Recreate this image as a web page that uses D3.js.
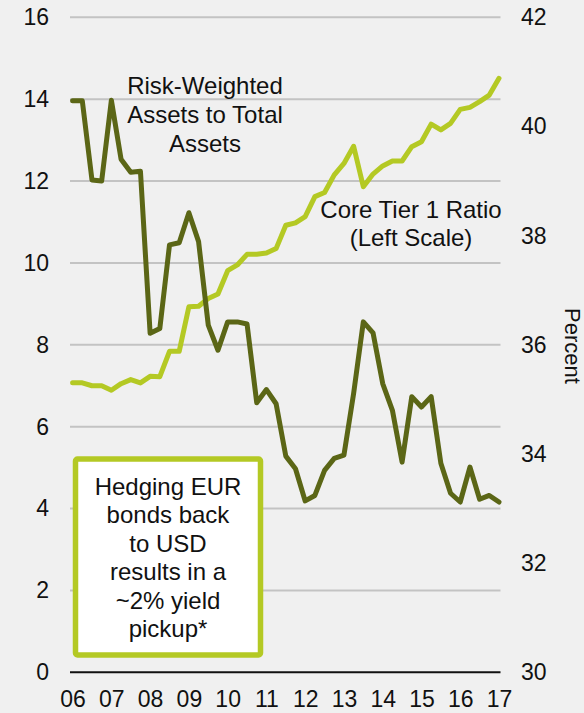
<!DOCTYPE html>
<html>
<head>
<meta charset="utf-8">
<script src="https://cdn.jsdelivr.net/npm/d3@7"></script>
<style>
  html, body { margin: 0; padding: 0; background: #f0f0f0; }
  svg { display: block; font-family: "Liberation Sans", Arial, sans-serif; }
</style>
</head>
<body>
<svg id="chart" width="584" height="713"></svg>
<script>
// Quarterly, 2006Q1 .. 2017Q1
const quarters = d3.range(45).map(i => 2006 + i / 4);
const xTickLabels = ["06","07","08","09","10","11","12","13","14","15","16","17"];
const leftTicks = [0, 2, 4, 6, 8, 10, 12, 14, 16];
const rightTicks = [30, 32, 34, 36, 38, 40, 42];

// Core Tier 1 Ratio (left scale)
const coreTier1 = [7.07,7.07,7.0,7.0,6.89,7.05,7.15,7.07,7.23,7.22,7.84,7.84,8.93,8.94,9.13,9.24,
  9.81,9.95,10.21,10.21,10.24,10.35,10.92,10.98,11.13,11.62,11.72,12.15,12.43,12.85,11.86,12.17,
  12.37,12.49,12.49,12.84,12.96,13.39,13.25,13.41,13.75,13.8,13.94,14.1,14.51];

// Risk-Weighted Assets to Total Assets (right scale)
const rwaRatio = [40.47,40.47,39.02,39.0,40.48,39.40,39.16,39.18,36.21,36.30,37.83,37.87,38.42,37.89,
  36.36,35.90,36.42,36.42,36.38,34.94,35.18,34.92,33.96,33.73,33.14,33.24,33.70,33.92,33.98,35.11,
  36.42,36.22,35.29,34.80,33.85,35.05,34.86,35.05,33.83,33.28,33.12,33.76,33.17,33.24,33.12];

const boxLines = ["Hedging EUR","bonds back","to USD","results in a","~2% yield","pickup*"];

const svg = d3.select("#chart");
const x = d3.scaleLinear().domain([2006, 2017]).range([72.6, 499]);
const yL = d3.scaleLinear().domain([0, 16]).range([672.3, 17.3]);
const yR = d3.scaleLinear().domain([30, 42]).range([672.3, 17.3]);

const darkCol = "#5b6616";
const lightCol = "#b4c924";

// gridlines
svg.append("g").selectAll("line").data(leftTicks.filter(d => d > 0)).join("line")
  .attr("x1", 70).attr("x2", 500.5)
  .attr("y1", d => yL(d)).attr("y2", d => yL(d))
  .attr("stroke", "#c3c3c3").attr("stroke-width", 2);
svg.append("line").attr("x1", 70).attr("x2", 500.5)
  .attr("y1", yL(0)).attr("y2", yL(0)).attr("stroke", "#111").attr("stroke-width", 2);

// left axis labels
const leftAxis = d3.axisLeft(yL).tickValues(leftTicks).tickSize(0).tickPadding(0);
const gL = svg.append("g").attr("transform", "translate(49,0)").call(leftAxis);
gL.select(".domain").remove();
gL.selectAll("text").attr("font-size", 23).attr("fill", "#111").attr("font-family", "Liberation Sans, Arial, sans-serif");

// right axis labels
const rightAxis = d3.axisRight(yR).tickValues(rightTicks).tickSize(0).tickPadding(0);
const gR = svg.append("g").attr("transform", "translate(521,0)").call(rightAxis);
gR.select(".domain").remove();
gR.selectAll("text").attr("font-size", 23).attr("fill", "#111").attr("font-family", "Liberation Sans, Arial, sans-serif");

// bottom axis labels
const bottomAxis = d3.axisBottom(x).tickValues(d3.range(2006, 2018))
  .tickFormat((d, i) => xTickLabels[i]).tickSize(0).tickPadding(0);
const gB = svg.append("g").attr("transform", "translate(0,691)").call(bottomAxis);
gB.select(".domain").remove();
gB.selectAll("text").attr("font-size", 23).attr("fill", "#111").attr("dy", "0.71em")
  .attr("font-family", "Liberation Sans, Arial, sans-serif");

// "Percent" rotated label
svg.append("text").attr("transform", "translate(565,346) rotate(90)")
  .attr("text-anchor", "middle").attr("font-size", 22).attr("fill", "#111").text("Percent");

// lines
const lineL = d3.line().x((d, i) => x(quarters[i])).y(d => yL(d)).curve(d3.curveLinear);
const lineR = d3.line().x((d, i) => x(quarters[i])).y(d => yR(d)).curve(d3.curveLinear);

svg.append("path").datum(coreTier1).attr("d", lineL)
  .attr("fill", "none").attr("stroke", lightCol).attr("stroke-width", 5)
  .attr("stroke-linejoin", "round").attr("stroke-linecap", "round");
svg.append("path").datum(rwaRatio).attr("d", lineR)
  .attr("fill", "none").attr("stroke", darkCol).attr("stroke-width", 5)
  .attr("stroke-linejoin", "round").attr("stroke-linecap", "round");

// annotations
const rwaLabel = ["Risk-Weighted", "Assets to Total", "Assets"];
svg.append("g").selectAll("text").data(rwaLabel).join("text")
  .attr("x", 205).attr("y", (d, i) => 94 + i * 29)
  .attr("text-anchor", "middle").attr("font-size", 24).attr("fill", "#111").text(d => d);

const ctLabel = ["Core Tier 1 Ratio", "(Left Scale)"];
svg.append("g").selectAll("text").data(ctLabel).join("text")
  .attr("x", 411).attr("y", (d, i) => 218 + i * 28)
  .attr("text-anchor", "middle").attr("font-size", 24).attr("fill", "#111").text(d => d);

// box
svg.append("rect").attr("x", 75.5).attr("y", 459).attr("width", 185).attr("height", 196)
  .attr("rx", 2).attr("fill", "#ffffff").attr("stroke", lightCol).attr("stroke-width", 5.5);
svg.append("g").selectAll("text").data(boxLines).join("text")
  .attr("x", 168).attr("y", (d, i) => 495 + i * 28.4)
  .attr("text-anchor", "middle").attr("font-size", 24).attr("fill", "#111").text(d => d);
</script>
</body>
</html>
